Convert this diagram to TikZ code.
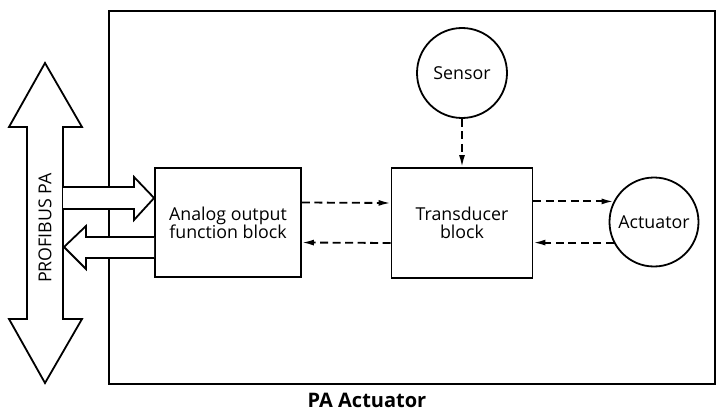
\documentclass[tikz,border=0pt]{standalone}
\usepackage{fontspec}
\setmainfont{Open Sans}
\usetikzlibrary{arrows.meta,calc}
\begin{document}
\begin{tikzpicture}[x=1pt,y=-1pt,line width=1.8pt,line join=miter,
  txt/.style={font=\fontsize{17.8}{18}\selectfont,align=center},
  blockbox/.style={draw,txt,inner sep=0pt},
  circ/.style={draw,circle,txt,inner sep=0pt},
  dasharrow/.style={dash pattern=on 8pt off 4.5pt,-{Latex[length=12pt,width=6pt]}},
  fatarrow/.style={draw,fill=white,line join=miter}]
\useasboundingbox (0,0) rectangle (718,412);
% outer box
\node[draw,anchor=north west,minimum width=606pt,minimum height=373pt,inner sep=0pt] (outer) at (108,10) {};
% blocks
\node[blockbox,minimum width=146pt,minimum height=109pt] (aout) at (228,222.5) {Analog output\\function block};
\node[blockbox,minimum width=141pt,minimum height=110pt] (trans) at (462,223) {Transducer\\block};
\node[circ,minimum size=90pt] (sensor) at (462,73) {Sensor};
\node[circ,minimum size=89pt] (act) at (654,222) {Actuator};
% bus double arrow
\draw[fill=white] (45,63) -- (82,127) -- (63,127) -- (63,319) -- (82,319) -- (45,383)
  -- (9,319) -- (27,319) -- (27,127) -- (9,127) -- cycle;
\node[txt,rotate=90] (bus) at (45,228) {PROFIBUS PA};
% fat arrows
\path[fill=white] (63,187) -- (134,187) -- (134,177) -- (aout.west |- 0,198) -- (134,220) -- (134,209) -- (63,209) -- cycle;
\draw (63,187) -- (134,187) -- (134,177) -- (aout.west |- 0,198) -- (134,220) -- (134,209) -- (63,209);
\path[fill=white] (aout.west |- 0,237) -- (86,237) -- (86,226) -- (64,247) -- (86,269) -- (86,258) -- (aout.west |- 0,258) -- cycle;
\draw (aout.west |- 0,237) -- (86,237) -- (86,226) -- (64,247) -- (86,269) -- (86,258) -- (aout.west |- 0,258);
% dashed connectors
\draw[dasharrow] ([yshift=20pt]aout.east) -- ([yshift=20pt]trans.west);
\draw[dasharrow] ([yshift=-20pt]trans.west) -- ([yshift=-20pt]aout.east);
\draw[dasharrow] (sensor.south) -- (trans.north);
\draw[dasharrow] (trans.east |- act.153) -- (act.153);
\draw[dasharrow] (act.207) -- (trans.east |- act.207);
% caption
\node[font=\fontsize{20}{22}\selectfont\bfseries] (cap) at (367,400) {PA Actuator};
\end{tikzpicture}
\end{document}
